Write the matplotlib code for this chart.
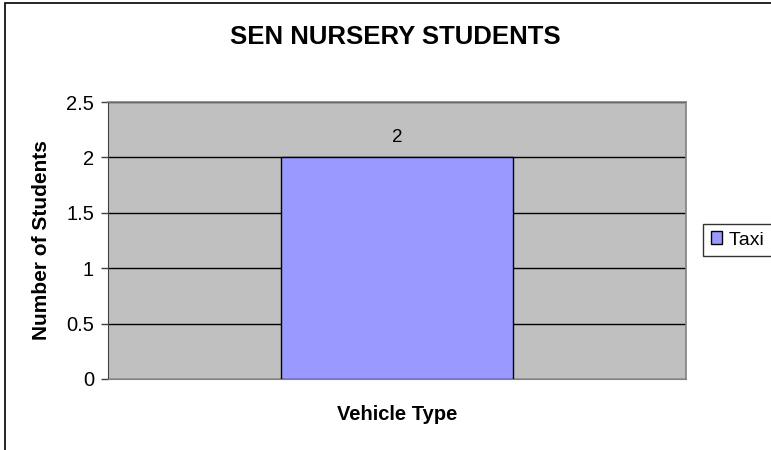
import matplotlib
matplotlib.use("Agg")
import matplotlib.pyplot as plt
from matplotlib.patches import Rectangle

categories = [""]
series_name = "Taxi"
values = [2]
y_ticks = [0, 0.5, 1, 1.5, 2, 2.5]
y_tick_labels = ["0", "0.5", "1", "1.5", "2", "2.5"]

plt.rcParams["font.family"] = ["Liberation Sans", "DejaVu Sans"]

fig = plt.figure(figsize=(7.71, 4.5), dpi=100)
ax = fig.add_axes([108 / 771, 1 - 379 / 450, 578 / 771, 277 / 450])

# outer chart border (cut off at right and bottom like the source)
fig.patches.append(
    Rectangle((5 / 771, -0.05), 1.1, 1 - 3 / 450 + 0.05, transform=fig.transFigure,
              fill=False, edgecolor="black", linewidth=1.2, clip_on=False)
)

ax.set_facecolor("#c0c0c0")
ax.set_axisbelow(True)
ax.yaxis.grid(True, color="black", linewidth=1.0)

bars = ax.bar(range(len(values)), values, width=0.4, color="#9999ff",
              edgecolor="black", linewidth=1.0, label=series_name + "   ")
for rect, v in zip(bars, values):
    ax.text(rect.get_x() + rect.get_width() / 2, v + 0.1, f"{v:g}",
            ha="center", va="bottom", fontsize=13.5)

ax.set_xlim(-0.5, 0.5)
ax.set_ylim(0, 2.5)
ax.set_xticks([])
ax.set_yticks(y_ticks)
ax.set_yticklabels(y_tick_labels, fontsize=14.5)
ax.tick_params(axis="y", direction="out", length=5, width=1, color="#404040", pad=5)

for side in ["top", "right"]:
    ax.spines[side].set_color("#808080")
    ax.spines[side].set_linewidth(1.2)
ax.spines["left"].set_color("#404040")
ax.spines["bottom"].set_color("#808080")

ax.set_xlabel("Vehicle Type", fontsize=14.5, fontweight="bold")
ax.set_ylabel("Number of Students", fontsize=15, fontweight="bold")
ax.xaxis.set_label_coords(0.5, (379 - 415) / 277)
ax.yaxis.set_label_coords((42 - 108) / 578, 0.5)
ax.xaxis.label.set_va("center")
ax.yaxis.label.set_va("center")
fig.text(395 / 771, 1 - 37 / 450, "SEN NURSERY STUDENTS", ha="center", va="center",
         fontsize=18.5, fontweight="bold")

leg = ax.legend(loc="center left", bbox_to_anchor=(703 / 771, 1 - 240 / 450),
                bbox_transform=fig.transFigure, frameon=True, fancybox=False,
                fontsize=14, handlelength=0.6, handleheight=0.6, handletextpad=0.35,
                borderpad=0.4, borderaxespad=0)
leg.get_frame().set_edgecolor("black")
leg.get_frame().set_linewidth(1.0)

fig.savefig("out.png", dpi=100)
